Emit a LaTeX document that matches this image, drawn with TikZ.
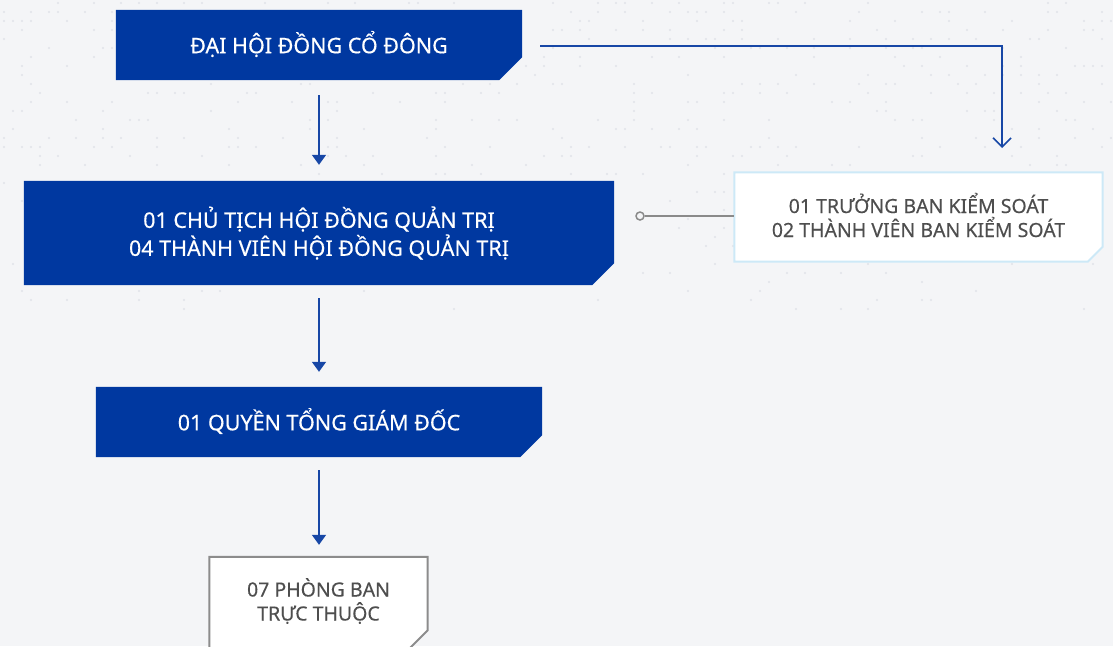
\documentclass[tikz,border=0pt]{standalone}
\usepackage{fontspec}
\setmainfont{Noto Sans}
\newfontfamily\medfont{Noto Sans}[FakeBold=0.45]
\newfontfamily\grayfont{Noto Sans}[FakeBold=0.25]
\usetikzlibrary{arrows.meta,backgrounds}
\pgfdeclarelayer{deep}
\pgfsetlayers{deep,background,main}
\definecolor{bg}{HTML}{F4F5F7}
\definecolor{dotc}{HTML}{E0E3E8}
\definecolor{navy}{HTML}{0038A0}
\definecolor{arrowblue}{HTML}{1747A6}
\definecolor{lightborder}{HTML}{CDE9F7}
\definecolor{txtgray}{HTML}{4E4E4E}
\definecolor{boxgray}{HTML}{8C8C8C}
\definecolor{linegray}{HTML}{8A8A8A}
\tikzset{
  basebox/.style={rectangle, align=center, inner sep=0pt},
  bluebox/.style={basebox, text=white, font=\medfont\fontsize{21.5}{28}\selectfont},
  graytext/.style={basebox, text=txtgray, font=\grayfont\fontsize{19.5}{24}\selectfont},
  bluefill/.style={fill=navy},
  lightframe/.style={fill=white, draw=lightborder, line width=2pt},
  grayframe/.style={fill=white, draw=boxgray, line width=2pt},
  down/.style={draw=arrowblue, line width=1.6pt, -{Triangle[width=14pt,length=10pt]}},
}
% chamfered outline behind a named node: #1 node, #2 chamfer size, #3 style
\newcommand\chamferbox[3]{%
  \begin{pgfonlayer}{background}
    \path[#3] (#1.north west) -- (#1.north east) -- ([yshift=#2]#1.south east)
      -- ([xshift=-#2]#1.south east) -- (#1.south west) -- cycle;
  \end{pgfonlayer}}
\begin{document}
\begin{tikzpicture}[x=1pt,y=-1pt]
\useasboundingbox (0,0) rectangle (1113,646);
\begin{pgfonlayer}{deep}
\fill[bg] (0,0) rectangle (1113,646);
\pgfmathsetseed{7}
\foreach \i in {0,...,123}{
  \foreach \j in {0,...,34}{
    \pgfmathsetmacro{\r}{rnd}
    \pgfmathsetmacro{\thr}{0.22-0.005*\j}
    \ifdim\r pt<\thr pt
      \fill[dotc] ({4+9*\i},{3+9*\j}) circle (1.1pt);
    \fi
  }
}
\end{pgfonlayer}
% boxes
\node[bluebox, minimum width=406pt, minimum height=70pt] (b1) at (319,45) {};
\chamferbox{b1}{23pt}{bluefill}
\node[bluebox] (t1) at (319,44) {ĐẠI HỘI ĐỒNG CỔ ĐÔNG};
\node[bluebox, minimum width=590pt, minimum height=104pt] (b2) at (319,233)
  {01 CHỦ TỊCH HỘI ĐỒNG QUẢN TRỊ\\04 THÀNH VIÊN HỘI ĐỒNG QUẢN TRỊ};
\chamferbox{b2}{22pt}{bluefill}
\node[basebox, minimum width=368pt, minimum height=89pt] (b3) at (918.5,217) {};
\chamferbox{b3}{15pt}{lightframe}
\node[graytext] (t3) at (918.5,215) {01 TRƯỞNG BAN KIỂM SOÁT\\02 THÀNH VIÊN BAN KIỂM SOÁT};
\node[bluebox, minimum width=446pt, minimum height=70pt] (b4) at (319,422) {};
\chamferbox{b4}{22pt}{bluefill}
\node[bluebox] (t4) at (319,421) {01 QUYỀN TỔNG GIÁM ĐỐC};
\node[basebox, minimum width=218pt, minimum height=93pt] (b5) at (318.5,603.5) {};
\chamferbox{b5}{20pt}{grayframe}
\node[graytext] (t5) at (318.5,601) {07 PHÒNG BAN\\TRỰC THUỘC};
% connectors
\draw[down, shorten <=15pt, shorten >=16pt] (b1.south) -- (b2.north);
\draw[down, shorten <=13pt, shorten >=15pt] (b2.south) -- (b4.north);
\draw[down, shorten <=13pt, shorten >=12pt] (b4.south) -- (b4.south |- b5.north);
\coordinate (c1) at (1002,148);
\draw[draw=arrowblue, line width=1.6pt, -{Straight Barb[width=18pt,length=9pt,line width=1.6pt]}]
  ([xshift=18pt]b1.east |- 0,46) -| (c1);
\node[circle, draw=linegray, fill=bg, line width=1.5pt, minimum size=8pt, inner sep=0pt] (c2) at (640,216) {};
\draw[linegray, line width=1.5pt] (c2) -- (b3.west |- c2);
\end{tikzpicture}
\end{document}
